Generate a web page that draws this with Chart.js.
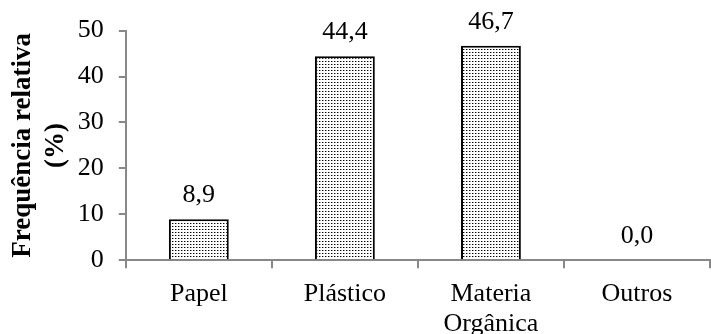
<!DOCTYPE html>
<html>
<head>
<meta charset="utf-8">
<script src="https://cdn.jsdelivr.net/npm/chart.js@4.4.1/dist/chart.umd.min.js"></script>
<style>
  html, body { margin: 0; padding: 0; background: #fff; }
  #wrap { width: 711px; height: 334px; }
</style>
</head>
<body>
<div id="wrap"><canvas id="canv" width="711" height="334"></canvas></div>
<script>
const categories = ["Papel", "Plástico", ["Materia", "Orgânica"], "Outros"]
const values = [8.9, 44.4, 46.7, 0.0]
const yTicks = [0, 10, 20, 30, 40, 50]

// dotted fill like the original
function dotPattern(){
  let c = document.createElement("canvas")
  c.width = 3
  c.height = 3
  let g = c.getContext("2d")
  g.fillStyle = "#fff"
  g.fillRect(0, 0, 3, 3)
  g.fillStyle = "#000"
  g.fillRect(1, 1, 1, 1)
  g.fillStyle = "#999"
  g.fillRect(2, 1, 1, 1)
  return g.createPattern(c, "repeat")
}

const valueLabels = {
  id: "valueLabels",
  afterDatasetsDraw(chart){
    let ctx = chart.ctx
    let meta = chart.getDatasetMeta(0)
    ctx.save()
    ctx.font = "26px 'Liberation Serif'"
    ctx.fillStyle = "#000"
    ctx.textAlign = "center"
    ctx.textBaseline = "alphabetic"
    meta.data.forEach((bar, i) => {
      ctx.fillText(values[i].toFixed(1).replace(".", ","), bar.x, bar.y - 17)
    })
    ctx.restore()
  }
}

Chart.defaults.font.family = "'Liberation Serif'"
Chart.defaults.color = "#000"

new Chart(document.getElementById("canv"), {
  type: "bar",
  data: {
    labels: categories,
    datasets: [{
      data: values,
      backgroundColor: dotPattern(),
      borderColor: "#000",
      borderWidth: 2,
      borderSkipped: "bottom",
      barPercentage: 0.41,
      categoryPercentage: 1
    }]
  },
  options: {
    responsive: false,
    animation: false,
    layout: { padding: { top: 18, right: 1, left: 7, bottom: -16 } },
    plugins: { legend: { display: false }, tooltip: { enabled: false } },
    scales: {
      x: {
        grid: { offset: true, drawOnChartArea: false, color: "#888", tickLength: 8, lineWidth: 2 },
        border: { color: "#888", width: 2 },
        ticks: { font: { size: 26, lineHeight: 1.15 }, padding: 11, maxRotation: 0 }
      },
      y: {
        min: 0,
        max: 50,
        afterBuildTicks(axis){ axis.ticks = yTicks.map(v => ({ value: v })) },
        grid: { drawOnChartArea: false, color: "#888", tickLength: 7, lineWidth: 2 },
        border: { color: "#888", width: 2 },
        ticks: { font: { size: 26 }, padding: 15 },
        title: {
          display: true,
          text: ["Frequência relativa", "(%)"],
          font: { size: 27, weight: "bold", lineHeight: 1.2 },
          padding: { top: 0, bottom: -9 }
        }
      }
    }
  },
  plugins: [valueLabels]
})
</script>
</body>
</html>
